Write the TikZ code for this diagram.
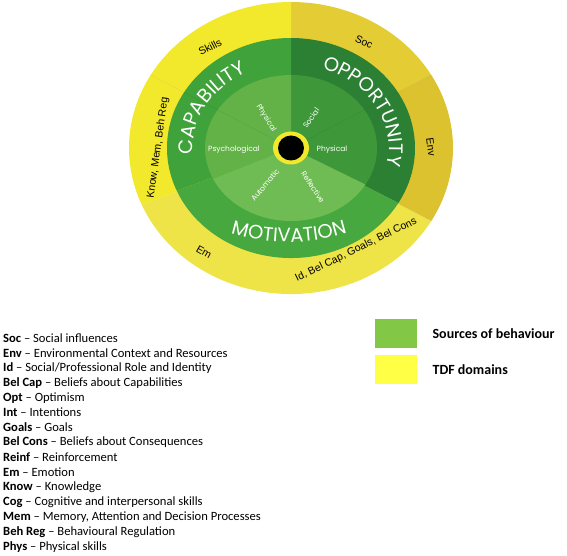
\documentclass[tikz,border=0pt]{standalone}
\usepackage{fontspec}
\setmainfont{Carlito}
\newfontfamily\radfont{Poppins}
\newfontfamily\ringfont{Liberation Sans}
\usetikzlibrary{decorations.text, positioning}

%%% Farben
\definecolor{capaussen}{RGB}{64,162,58}
\definecolor{capinnen}{RGB}{98,178,72}
\definecolor{oppaussen}{RGB}{44,128,52}
\definecolor{oppinnen}{RGB}{62,152,58}
\definecolor{motaussen}{RGB}{70,168,62}
\definecolor{motinnen}{RGB}{112,188,84}
\definecolor{ringhell}{RGB}{242,232,44}
\definecolor{ringunten}{RGB}{238,228,72}
\definecolor{ringocker}{RGB}{228,204,52}
\definecolor{ringdunkel}{RGB}{220,194,46}
\definecolor{legendgruen}{RGB}{130,200,70}
\definecolor{legendgelb}{RGB}{255,255,70}

\begin{document}
\begin{tikzpicture}[x=1pt, y=1pt,
    ringtext/.style={font=\ringfont\fontsize{10.5}{12}\selectfont, text=black, inner sep=0pt},
    innentext/.style={font=\radfont\fontsize{7.5}{9}\selectfont, text=white, inner sep=0pt},
    listtext/.style={font=\fontsize{12.6}{14}\selectfont, anchor=west, inner sep=0pt},
    legendbox/.style={minimum width=42pt, minimum height=29pt, inner sep=0pt, anchor=north west},
    legendtext/.style={font=\bfseries\fontsize{14}{16}\selectfont, inner sep=0pt},
    bogentext/.style={decorate, decoration={text along path, text align=center, text color=white,
        text={|\radfont\fontsize{19.5}{19.5}\selectfont|#1}}}
  ]

%%% Definition der BoundingBox
\useasboundingbox (0,0) rectangle (567,555);

%%% Mittelpunkt des Rades
\coordinate (M) at (291,407);

\begin{scope}[shift={(M)}]
%%% Aeusserer Ring (TDF)
\foreach \a/\b/\f in {30/90/ringocker, 90/150/ringhell, 150/203/ringhell, 203/330/ringunten, -30/30/ringdunkel}
  \fill[\f] (0,0) -- (\a:162 and 146) arc[start angle=\a, end angle=\b, x radius=162, y radius=146] -- cycle;

%%% Quellen des Verhaltens
\fill[oppaussen] (0,0) -- (-30:124 and 110) arc[start angle=-30, end angle=90, x radius=124, y radius=110] -- cycle;
\fill[capaussen] (0,0) -- (90:124 and 110) arc[start angle=90, end angle=203, x radius=124, y radius=110] -- cycle;
\fill[motaussen] (0,0) -- (203:124 and 110) arc[start angle=203, end angle=330, x radius=124, y radius=110] -- cycle;

\fill[oppinnen] (0,0) -- (-30:86 and 73) arc[start angle=-30, end angle=90, x radius=86, y radius=73] -- cycle;
\fill[capinnen] (0,0) -- (90:86 and 73) arc[start angle=90, end angle=205, x radius=86, y radius=73] -- cycle;
\fill[motinnen] (0,0) -- (205:86 and 73) arc[start angle=205, end angle=330, x radius=86, y radius=73] -- cycle;

%%% feine Trennlinien
\draw[black, opacity=.12, very thin] (30:18 and 16) -- (30:162 and 146);
\draw[black, opacity=.12, very thin] (150:18 and 16) -- (150:162 and 146);

%%% Mitte
\fill[ringhell] (0,0) ellipse[x radius=18, y radius=16.5];
\fill[black] (0,0) ellipse[x radius=13, y radius=12.5];

%%% Beschriftung entlang der Boegen
\path[bogentext=CAPABILITY] (230:98 and 84) arc[start angle=230, end angle=76, x radius=98, y radius=84];
\path[bogentext=OPPORTUNITY] (105:98 and 84) arc[start angle=105, end angle=-49, x radius=98, y radius=84];
\path[bogentext=MOTIVATION] ([shift={(-2,104)}]235:198) arc[start angle=235, end angle=305, radius=198];
\end{scope}

%%% Innere Beschriftungen
\node[innentext] (psych) at (234,405) {Psychological};
\node[innentext, rotate=-58] (physcap) at (266,437) {Physical};
\node[innentext, rotate=55] (social) at (311,437) {Social};
\node[innentext] (physopp) at (332,405) {Physical};
\node[innentext, rotate=50] (auto) at (265,370) {Automatic};
\node[innentext, rotate=-57] (refl) at (313,368) {Reflective};

%%% TDF-Domaenen
\node[ringtext, rotate=27] (skills) at (210,508) {Skills};
\node[ringtext, rotate=-25] (soc) at (364,513) {Soc};
\node[ringtext, rotate=-82] (env) at (431,408) {Env};
\node[ringtext, rotate=82] (know) at (158,407) {Know, Mem, Beh Reg};
\node[ringtext, rotate=-30] (em) at (204,303) {Em};
\node[ringtext, rotate=26] (idcap) at (356,305) {Id, Bel Cap, Goals, Bel Cons};

%%% Legende
\node[legendbox, fill=legendgruen] (gruenbox) at (375,236) {};
\node[legendbox, fill=legendgelb] (gelbbox) at (375,200) {};
\node[legendtext, right=15pt of gruenbox] (quellen) {Sources of behaviour};
\node[legendtext, right=15pt of gelbbox] (tdf) {TDF domains};

%%% Abkuerzungen
\foreach \abk/\txt [count=\i from 0] in {Soc/Social influences, Env/Environmental Context and Resources,
    Id/{Social/Professional Role and Identity}, Bel Cap/Beliefs about Capabilities, Opt/Optimism,
    Int/Intentions, Goals/Goals, Bel Cons/Beliefs about Consequences, Reinf/Reinforcement,
    Em/Emotion, Know/Knowledge, Cog/Cognitive and interpersonal skills,
    Mem/{Memory, Attention and Decision Processes}, Beh Reg/Behavioural Regulation, Phys/Physical skills}
  \node[listtext] (abk\i) at (3,{217-14.93*\i}) {\textbf{\abk} -- \txt};

\end{tikzpicture}
\end{document}
